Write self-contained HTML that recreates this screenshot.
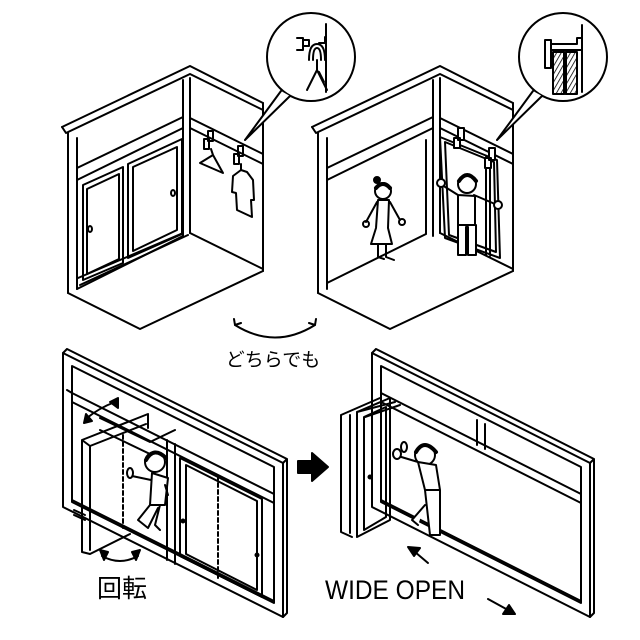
<!DOCTYPE html>
<html><head><meta charset="utf-8"><style>
html,body{margin:0;padding:0;background:#fff;}
svg{display:block;}
text{font-family:"Liberation Sans","Noto Sans CJK JP",sans-serif;}
</style></head><body>
<svg width="640" height="640" viewBox="0 0 640 640" xmlns="http://www.w3.org/2000/svg" fill="none" stroke="#000" stroke-width="2" stroke-linejoin="round" stroke-linecap="round">
<defs>
<pattern id="hatch" width="4" height="4" patternUnits="userSpaceOnUse" patternTransform="rotate(30)"><line x1="0" y1="0" x2="0" y2="4" stroke="#000" stroke-width="1.6"/></pattern>
</defs>

<!-- ===== TOP LEFT ROOM ===== -->
<g id="room">
<path d="M62,127 L190,66 L263,103"/>
<path d="M62,127 L66,133 L190,74 L263,110"/>
<path d="M68,133 V293 M77,138 V289"/>
<path d="M183,80 V236 M190,78 V233"/>
<path d="M77,168 L183,117 M77,180 L183,128"/>
<path d="M190,118 L263,154 M190,128 L263,164"/>
<path d="M263,103 V271"/>
<path d="M190,233 L263,269"/>
<path d="M68,293 L140,329 L263,271"/>
<path d="M77,289 L183,236"/>
</g>
<!-- doors -->
<path d="M78,278 L183,233 M80,285 L188,235"/>
<path d="M83,185 L123,167 V263 L83,280 Z M87,189 L119,174 V259 L87,274 Z"/>
<path d="M128,164 L182,139 V234 L128,258 Z M133,167 L177,147 V230 L133,251 Z"/>
<ellipse cx="90" cy="229" rx="2" ry="3"/>
<ellipse cx="173" cy="193" rx="2" ry="3"/>
<!-- hangers -->
<path d="M208,131 h5 v10 h-5 z M204,139 h5 v10 h-5 z"/>
<path d="M211,149 L213,155 L200,163 L223,173 L213,155"/>
<path d="M238,146 h5 v10 h-5 z M234,154 h5 v10 h-5 z"/>
<path d="M241,164 L241,170 L233,176 L232,192 L236,193 L237,210 L252,217 L251,200 L254,200 L253,180 L247,172 L241,170"/>
<!-- callout 1 -->
<circle cx="311" cy="57" r="44"/>
<path d="M290,96 L245,140 L281,91" fill="#fff"/>
<path d="M297,38 h6 v12 h-6 M303,40 h6 v6 h-6 M319,43 h6 v-6 M326,24 V92"/>
<path d="M309,60 q0,-16 8,-16 q8,0 8,16 M313,60 q0,-12 4,-12 q4,0 4,12 M317,60 V70 L307,90 M317,70 L327,90 M319,72 L324,82"/>

<!-- ===== TOP RIGHT ROOM ===== -->
<g transform="translate(250,0)">
<path d="M62,127 L190,66 L263,103"/>
<path d="M62,127 L66,133 L190,74 L263,110"/>
<path d="M68,133 V293 M77,138 V289"/>
<path d="M183,80 V236 M190,78 V233"/>
<path d="M77,168 L183,117 M77,180 L183,128"/>
<path d="M190,118 L263,154 M190,128 L263,164"/>
<path d="M263,103 V271"/>
<path d="M190,233 L263,269"/>
<path d="M68,293 L140,329 L263,271"/>
<path d="M77,283 L176,234 M176,140 V234"/>
</g>
<!-- callout 2 -->
<circle cx="563" cy="57" r="44"/>
<path d="M542,96 L497,140 L533,91" fill="#fff"/>
<path d="M545,40 h6 v28 h-6 z M551,44 h26 v-6 h5 v12 h-31"/>
<rect x="553" y="52" width="11" height="42" fill="url(#hatch)"/>
<rect x="566" y="52" width="11" height="42" fill="url(#hatch)"/>
<path d="M565,52 V94 M582,25 V92"/>
<!-- folded doors -->
<path d="M440,137 L497,160 L500,258 L445,238 Z M445,142 L494,162 L496,252 L449,235 Z M486,157 V255 M490,160 V256"/>
<path d="M458,128 h6 v12 h-6 z M454,138 h6 v10 h-6 z M489,148 h6 v12 h-6 z M485,158 h6 v10 h-6 z" fill="#fff"/>
<!-- girl -->
<circle cx="383" cy="191" r="8" fill="#fff"/>
<path d="M376,188 q7,-8 14,0" stroke-width="4"/>
<circle cx="377" cy="180" r="3" fill="#000"/>
<path d="M377,202 L366,222 M390,202 L400,220 M378,200 L376,228 L371,244 L392,244 L388,228 L389,200 Z" fill="#fff"/>
<circle cx="366" cy="224" r="3"/><circle cx="402" cy="222" r="3"/>
<path d="M378,244 v13 l6,2 M386,244 v13 l8,3"/>
<!-- boy -->
<circle cx="467" cy="184" r="9" fill="#fff"/>
<path d="M459,181 q8,-12 17,0" stroke-width="4"/>
<path d="M458,195 L442,185 M474,195 L495,204 M458,195 L458,225 L475,225 L475,196 Z M458,225 V255 h8 v-28 h2 V255 h8 V225" fill="#fff"/>
<circle cx="441" cy="183" r="4" fill="#fff"/><circle cx="498" cy="205" r="4" fill="#fff"/>

<!-- どちらでも -->
<path d="M235,325 q40,25 80,0" />
<path d="M234,319 l1,6 l6,-2 M316,319 l-1,6 l-6,-2"/>
<text x="273" y="366" font-size="19" fill="#000" stroke="none" text-anchor="middle">どちらでも</text>

<!-- ===== BOTTOM LEFT FRAME ===== -->
<path d="M63,353 L283,463 V617 L63,507 Z" fill="#fff"/>
<path d="M67,349 L287,459 L287,613 M63,353 L67,349 M283,463 L287,459 M283,617 L287,613"/>
<path d="M72,366 L274,467 V603 L72,502 Z"/>
<path d="M72,393 L274,494 M72,402 L274,503 M67,390 L72,393"/>
<path d="M167,440 V560 M175,444 V564"/>
<path d="M72,500 L274,601"/>
<path d="M180,458 L262,499 V597 L180,556 Z M186,465 L257,501 V590 L186,554 Z"/>
<path d="M218,476 V580" stroke-dasharray="4,3"/>
<circle cx="183" cy="521" r="1.5" fill="#000"/><circle cx="257" cy="555" r="1.5" fill="#000"/>
<path d="M82,552 L82,440 L148,414 L148,428 M90,550 V446 L146,424 M82,552 L90,554 L130,534 M82,440 L90,446"/>
<path d="M74,515 L85,520 M74,510 L85,515"/>
<path d="M123,435 V528" stroke-dasharray="4,3"/>
<path d="M100,418 L150,442 M100,430 L150,454 M150,442 L175,430"/>
<!-- person bottom-left -->
<circle cx="155" cy="462" r="10" fill="#fff"/>
<path d="M146,460 q8,-14 20,-2" stroke-width="4"/>
<path d="M152,473 L150,505 L165,505 L168,478 Z M151,480 L132,476 M165,485 L168,495 M150,505 L138,520 L148,528 L158,508 M160,505 L155,525 L160,530" fill="#fff"/>
<ellipse cx="130" cy="473" rx="3" ry="5" fill="#fff"/>
<!-- rotate arrows -->
<path d="M87,418 q12,-10 28,-16"/>
<path d="M84,423 L86,414 L92,421 Z M118,398 L118,408 L110,402 Z" fill="#000"/>
<path d="M102,556 q18,10 36,0"/>
<path d="M100,550 L104,560 L108,552 Z M140,550 L136,560 L132,552 Z" fill="#000"/>
<text x="122" y="597" font-size="25" fill="#000" stroke="none" text-anchor="middle">回転</text>

<!-- arrow -->
<path d="M298,461 h14 v-8 l16,14 l-16,14 v-8 h-14 Z" fill="#000"/>

<!-- ===== BOTTOM RIGHT FRAME ===== -->
<path d="M372,353 L590,463 V617 L372,507 Z" fill="#fff"/>
<path d="M376,349 L594,459 L594,613 M372,353 L376,349 M590,463 L594,459 M590,617 L594,613"/>
<path d="M381,366 L581,467 V603 L381,502 Z"/>
<path d="M381,393 L581,494 M381,402 L581,503"/>
<path d="M477,420 V445 M485,424 V449"/>
<path d="M381,500 L581,601"/>
<!-- folded doors -->
<path d="M341,415 L380,398 M341,415 V532 L352,537 M350,415 V533 M357,412 L390,398 V520 L357,537 Z M364,417 L386,407 V517 L364,530 Z"/>
<path d="M357,412 L395,402 M365,417 L400,405" />
<circle cx="370" cy="477" r="1.5" fill="#000"/>
<!-- person bottom-right -->
<circle cx="425" cy="455" r="10" fill="#fff"/>
<path d="M416,452 q8,-14 20,0" stroke-width="4"/>
<path d="M418,462 L398,456 M418,462 L425,490 L440,490 L436,465 Z M425,490 L430,535 L440,535 L440,490 M425,505 L412,520 L418,525" fill="#fff"/>
<ellipse cx="397" cy="454" rx="4" ry="5" fill="#fff"/><ellipse cx="404" cy="447" rx="3" ry="5" fill="#fff"/>
<!-- wide open arrows -->
<path d="M428,563 L415,552"/>
<path d="M408,547 L420,548 L414,556 Z" fill="#000"/>
<path d="M488,599 L508,610"/>
<path d="M515,614 L503,614 L509,605 Z" fill="#000"/>
<text x="325" y="599" font-size="27" fill="#000" stroke="none" textLength="140" lengthAdjust="spacingAndGlyphs">WIDE OPEN</text>
</svg>
</body></html>
